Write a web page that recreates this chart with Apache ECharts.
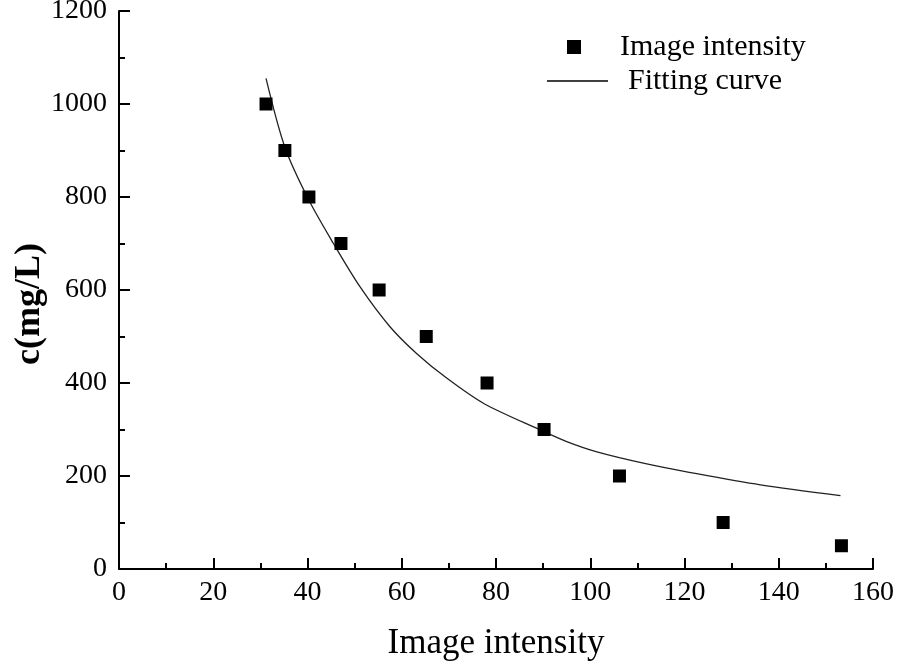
<!DOCTYPE html>
<html>
<head>
<meta charset="utf-8">
<script src="https://cdn.jsdelivr.net/npm/echarts@6/dist/echarts.min.js"></script>
<style>html,body{margin:0;padding:0;background:#fff;}#c{width:898px;height:662px;}</style>
</head>
<body>
<div id="c"></div>
<script>
// Measured points (Image intensity, c mg/L)
const pointX = [31.2, 35.2, 40.3, 47.1, 55.2, 65.2, 78.1, 90.2, 106.2, 128.2, 153.3];
const pointY = [1000, 900, 800, 700, 600, 500, 400, 300, 200, 100, 50];
// Fitting curve
const curveX = [31.2, 35.2, 40.2, 45.5, 51.2, 57.5, 63.2, 69.6, 77.4, 89.4, 95.0, 101.4, 112.0, 121.0, 136.1, 153.1];
const curveY = [1055, 907, 795, 700, 606, 521, 463, 410, 356, 299, 274, 252, 226, 208, 181, 158];
const seriesNames = ['Image intensity', 'Fitting curve'];
const xTitle = 'Image intensity';
const yTitle = 'c(mg/L)';

const FONT = 'Liberation Serif';
const chart = echarts.init(document.getElementById('c'), null, {renderer: 'canvas'});
const axisCommon = {
  axisLine: {show: true, onZero: false, lineStyle: {color: '#000', width: 2}},
  axisTick: {show: true, inside: true, length: 11, lineStyle: {color: '#000', width: 2}},
  minorTick: {show: true, splitNumber: 2, length: 6, lineStyle: {color: '#000', width: 2}},
  splitLine: {show: false}
};
chart.setOption({
  animation: false,
  backgroundColor: '#fff',
  grid: {left: 119, right: 25, top: 11, bottom: 93, containLabel: false, outerBoundsMode: 'none'},
  legend: [
    {
      data: [{name: seriesNames[0], icon: 'rect', itemStyle: {color: '#000', opacity: 1}}],
      left: 562, top: 27,
      itemWidth: 14, itemHeight: 14,
      textStyle: {fontFamily: FONT, fontSize: 30, color: '#000', padding: [0, 0, 0, 34]},
      selectedMode: false
    },
    {
      data: [{name: seriesNames[1], icon: 'rect'}],
      left: 542, top: 61,
      itemWidth: 61, itemHeight: 1.5,
      textStyle: {fontFamily: FONT, fontSize: 30, color: '#000', padding: [0, 0, 0, 15]},
      selectedMode: false
    }
  ],
  xAxis: Object.assign({}, axisCommon, {
    type: 'value', min: 0, max: 160, interval: 20,
    name: xTitle, nameLocation: 'middle', nameGap: 57,
    nameTextStyle: {fontFamily: FONT, fontSize: 35, color: '#000'},
    axisLabel: {color: '#000', fontFamily: FONT, fontSize: 28, margin: 10, formatter: v => String(v)}
  }),
  yAxis: Object.assign({}, axisCommon, {
    type: 'value', min: 0, max: 1200, interval: 200,
    axisLabel: {color: '#000', fontFamily: FONT, fontSize: 28, margin: 12, formatter: v => String(v)}
  }),
  graphic: [{
    type: 'text', x: 30, y: 304, rotation: Math.PI / 2,
    style: {text: yTitle, fontFamily: FONT, fontWeight: 'bold', fontSize: 36, fill: '#000', align: 'center', verticalAlign: 'middle'}
  }],
  series: [
    {
      name: seriesNames[0], type: 'scatter', symbol: 'rect', symbolSize: 13,
      itemStyle: {color: '#000', opacity: 1},
      data: pointX.map((x, i) => [x, pointY[i]]),
      z: 3
    },
    {
      name: seriesNames[1], type: 'line', smooth: 0.3, symbol: 'none',
      lineStyle: {color: '#222', width: 1.3},
      itemStyle: {color: '#000'},
      data: curveX.map((x, i) => [x, curveY[i]]),
      z: 2
    }
  ]
});
</script>
</body>
</html>
